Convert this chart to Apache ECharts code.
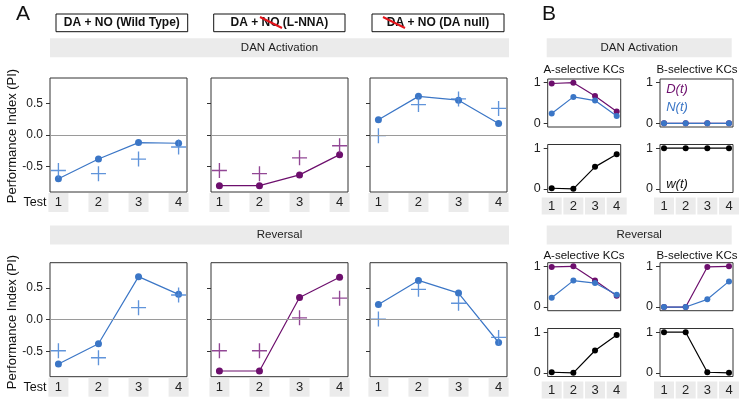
<!DOCTYPE html>
<html><head><meta charset="utf-8">
<script src="https://cdn.jsdelivr.net/npm/echarts@6/dist/echarts.min.js"></script>
<style>html,body{margin:0;padding:0;background:#fff}#c{width:746px;height:402px}</style>
</head><body><div id="c"></div>
<script>
// ---------- data ----------
const tests = [1, 2, 3, 4];
const piTicks = [-0.5, 0, 0.5];
const kcTicks = [0, 1];
const conditions = ['DA + NO (Wild Type)', 'DA + NO (L-NNA)', 'DA + NO (DA null)'];
const phases = ['DAN Activation', 'Reversal'];
// Panel A: model (dots+line) and experiment (crosses)
const wtActModel   = [-0.69, -0.38, -0.12, -0.13];
const wtActExp     = [-0.56, -0.61, -0.38, -0.19];
const lnnaActModel = [-0.80, -0.80, -0.63, -0.31];
const lnnaActExp   = [-0.56, -0.61, -0.36, -0.17];
const nullActModel = [0.24, 0.61, 0.55, 0.18];
const nullActExp   = [-0.01, 0.48, 0.57, 0.42];
const wtRevModel   = [-0.70, -0.38, 0.68, 0.40];
const wtRevExp     = [-0.49, -0.60, 0.19, 0.39];
const lnnaRevModel = [-0.81, -0.81, 0.35, 0.67];
const lnnaRevExp   = [-0.49, -0.49, 0.03, 0.34];
const nullRevModel = [0.24, 0.62, 0.42, -0.36];
const nullRevExp   = [0.01, 0.48, 0.26, -0.28];
// Panel B
const actA_D = [0.98, 1.0, 0.67, 0.29];
const actA_N = [0.24, 0.65, 0.56, 0.18];
const actB_D = [0, 0, 0, 0];
const actB_N = [0, 0, 0, 0];
const actA_w = [0.015, 0, 0.54, 0.85];
const actB_w = [1, 1, 1, 1];
const revA_D = [0.985, 1.0, 0.655, 0.28];
const revA_N = [0.23, 0.65, 0.59, 0.30];
const revB_D = [0, 0, 0.985, 1.0];
const revB_N = [0, 0, 0.19, 0.63];
const revA_w = [0.015, 0, 0.55, 0.93];
const revB_w = [1, 1, 0.015, 0];

// ---------- styling ----------
const BLUE = '#3b76c6', BLUE_X = '#4f88d6', PURPLE = '#6d0f6d', PURPLE_X = '#86338a', BLACK = '#000';
const FONT = 'Liberation Sans, Arial, sans-serif';
const PLUS = 'path://M0,4.55h10v0.9h-10zM4.55,0h0.9v10h-0.9z';
const pts = vals => tests.map((t, i) => [t, vals[i]]);

const grids = [], xAxes = [], yAxes = [], series = [];
function addGrid(left, top, w, h, opt) {
  const idx = grids.length;
  grids.push({left, top, width: w, height: h, show: true, borderColor: '#333', borderWidth: 1, backgroundColor: 'transparent'});
  xAxes.push({
    type: 'value', gridIndex: idx, min: opt.xmin, max: opt.xmax,
    axisLine: {show: false}, axisTick: {show: false}, splitLine: {show: false},
    axisLabel: opt.xlabels ? {
      show: true, customValues: tests, margin: opt.xmargin,
      backgroundColor: '#ebebeb', width: 20, height: opt.lh, lineHeight: opt.lh,
      align: 'center', verticalAlign: 'top', fontSize: opt.xfs, color: '#222', fontFamily: FONT
    } : {show: false}
  });
  yAxes.push({
    type: 'value', gridIndex: idx, min: opt.ymin, max: opt.ymax,
    axisLine: {show: false}, splitLine: {show: false},
    axisTick: {show: true, customValues: opt.yticks, length: 4, lineStyle: {color: '#333'}},
    axisLabel: {show: opt.ylabels, customValues: opt.yticks, margin: 7, fontSize: opt.yfs, color: '#222', fontFamily: FONT,
      formatter: v => opt.fmt(v)}
  });
  return idx;
}

// Panel A
const aLefts = [50, 211, 370];
const aTops = [78, 262.7];
const aData = [
  [[wtActModel, wtActExp], [lnnaActModel, lnnaActExp], [nullActModel, nullActExp]],
  [[wtRevModel, wtRevExp], [lnnaRevModel, lnnaRevExp], [nullRevModel, nullRevExp]]
];
const aColors = [[BLUE, BLUE_X], [PURPLE, PURPLE_X], [BLUE, BLUE_X]];
for (let r = 0; r < 2; r++) {
  for (let c = 0; c < 3; c++) {
    const g = addGrid(aLefts[c], aTops[r], 137, 114, {
      xmin: 0.79, xmax: 4.21, ymin: -0.9, ymax: 0.9, xlabels: true, xmargin: 1, lh: 19, xfs: 13,
      yticks: piTicks, ylabels: c === 0, yfs: 12, fmt: v => v.toFixed(1)
    });
    const [model, exp] = aData[r][c];
    series.push({
      type: 'line', xAxisIndex: g, yAxisIndex: g, data: pts(model), symbol: 'circle', symbolSize: 7,
      itemStyle: {color: aColors[c][0]}, lineStyle: {color: aColors[c][0], width: 1.2}, animation: false, z: 3,
      markLine: {silent: true, symbol: 'none', label: {show: false}, lineStyle: {color: '#9a9a9a', width: 1, type: 'solid'},
        data: [{yAxis: 0}], animation: false}
    });
    series.push({
      type: 'scatter', xAxisIndex: g, yAxisIndex: g, data: pts(exp), symbol: PLUS, symbolSize: 15,
      itemStyle: {color: aColors[c][1], opacity: 0.9}, animation: false, z: 4
    });
  }
}

// Panel B
const bLefts = [547.7, 660];
const bTops = [[79, 144.5], [262.7, 328.5]];
const bData = [
  [[actA_D, actA_N, actA_w], [actB_D, actB_N, actB_w]],
  [[revA_D, revA_N, revA_w], [revB_D, revB_N, revB_w]]
];
for (let r = 0; r < 2; r++) {
  for (let c = 0; c < 2; c++) {
    const [D, N, W] = bData[r][c];
    const g1 = addGrid(bLefts[c], bTops[r][0], 73, 48, {
      xmin: 0.815, xmax: 4.185, ymin: -0.09, ymax: 1.09, xlabels: false,
      yticks: kcTicks, ylabels: true, yfs: 12.5, fmt: v => String(v)
    });
    series.push({type: 'line', xAxisIndex: g1, yAxisIndex: g1, data: pts(D), symbol: 'circle', symbolSize: 6,
      itemStyle: {color: PURPLE}, lineStyle: {color: PURPLE, width: 1.2}, animation: false});
    series.push({type: 'line', xAxisIndex: g1, yAxisIndex: g1, data: pts(N), symbol: 'circle', symbolSize: 6,
      itemStyle: {color: BLUE}, lineStyle: {color: BLUE, width: 1.2}, animation: false});
    const g2 = addGrid(bLefts[c], bTops[r][1], 73, 48, {
      xmin: 0.815, xmax: 4.185, ymin: -0.09, ymax: 1.09, xlabels: true, xmargin: 5, lh: 17, xfs: 13,
      yticks: kcTicks, ylabels: true, yfs: 12.5, fmt: v => String(v)
    });
    series.push({type: 'line', xAxisIndex: g2, yAxisIndex: g2, data: pts(W), symbol: 'circle', symbolSize: 6,
      itemStyle: {color: BLACK}, lineStyle: {color: BLACK, width: 1.2}, animation: false});
  }
}

// ---------- decorations (headers, strips, labels) ----------
const T = (text, x, y, font, fill, extra) => Object.assign({type: 'text', x, y, silent: true,
  style: {text, font, fill: fill || '#222', align: 'center', verticalAlign: 'middle'}}, extra || {});
const graphic = [];
graphic.push(T('A', 23, 14, '21px ' + FONT, '#111'));
graphic.push(T('B', 549, 14, '21px ' + FONT, '#111'));
const hdrBoxes = [[56, 187.7], [213.7, 345], [372, 504]];
hdrBoxes.forEach(([x0, x1], i) => {
  graphic.push({type: 'rect', shape: {x: x0, y: 14, width: x1 - x0, height: 17.7}, style: {fill: '#fff', stroke: '#111', lineWidth: 1}, silent: true});
  graphic.push(T(conditions[i], (x0 + x1) / 2, 23, 'bold 12px ' + FONT, '#111'));
});
// red strike-throughs
graphic.push({type: 'line', shape: {x1: 260, y1: 17, x2: 282, y2: 28}, style: {stroke: '#e3141b', lineWidth: 2}, silent: true, z: 10});
graphic.push({type: 'line', shape: {x1: 383, y1: 17, x2: 405, y2: 28}, style: {stroke: '#e3141b', lineWidth: 2}, silent: true, z: 10});
// strips
const stripYs = [38.3, 225.5];
stripYs.forEach((y, i) => {
  graphic.push({type: 'rect', shape: {x: 50, y, width: 459, height: 19}, style: {fill: '#ebebeb'}, silent: true, z: -1});
  graphic.push(T(phases[i], 279.5, y + 9.8, '11.5px ' + FONT, '#222'));
  graphic.push({type: 'rect', shape: {x: 546.7, y, width: 185, height: 19}, style: {fill: '#ebebeb'}, silent: true, z: -1});
  graphic.push(T(phases[i], 639.2, y + 9.8, '11.5px ' + FONT, '#222'));
});
// KC titles
[70, 256].forEach(y => {
  graphic.push(T('A-selective KCs', 584, y, '11.5px ' + FONT, '#111'));
  graphic.push(T('B-selective KCs', 697, y, '11.5px ' + FONT, '#111'));
});
// y-axis names & Test labels
[136, 322].forEach(y => {
  graphic.push(T('Performance Index (PI)', 12, y, '13px ' + FONT, '#111', {rotation: Math.PI / 2}));
});
[202.5, 387.5].forEach(y => graphic.push(T('Test', 35, y, '12.5px ' + FONT, '#111')));
// legends inside B
graphic.push(T('D(t)', 677, 89, 'italic 13px ' + FONT, PURPLE));
graphic.push(T('N(t)', 677, 107, 'italic 13px ' + FONT, BLUE));
graphic.push(T('w(t)', 677, 184, 'italic 13px ' + FONT, '#111'));

const chart = echarts.init(document.getElementById('c'), null, {renderer: 'canvas'});
chart.setOption({
  animation: false, backgroundColor: '#fff',
  grid: grids, xAxis: xAxes, yAxis: yAxes, series, graphic
});
</script></body></html>
